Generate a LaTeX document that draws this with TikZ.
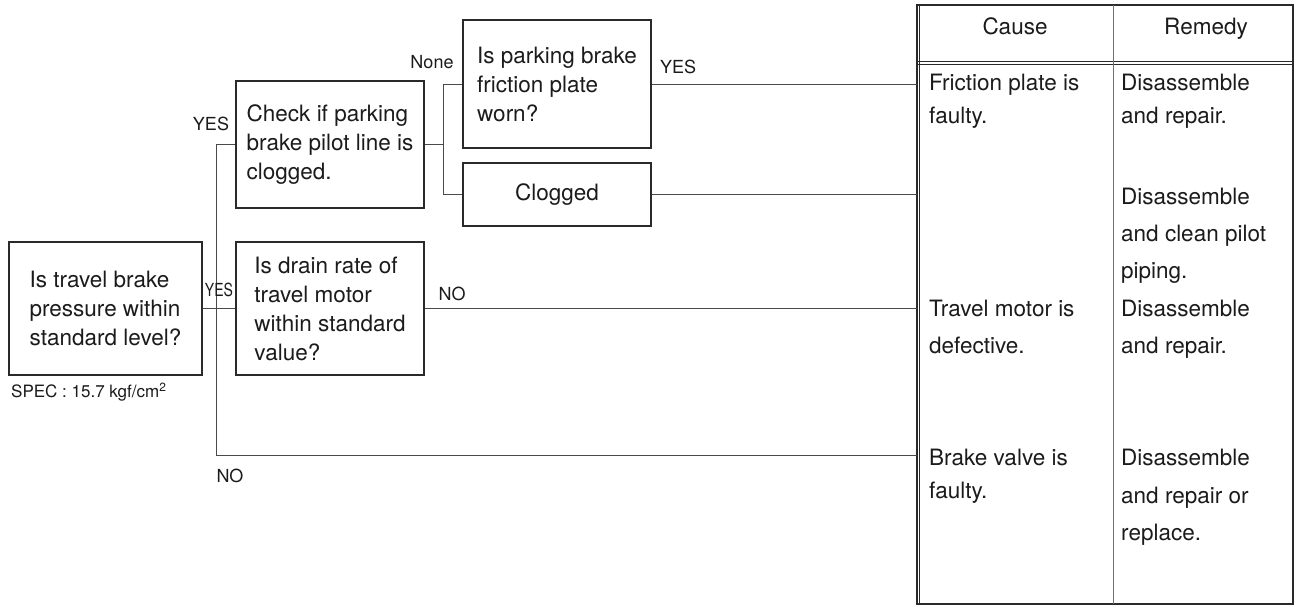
\documentclass[tikz,border=0pt]{standalone}
\usepackage{fontspec}
\setmainfont{TeX Gyre Heros}
\definecolor{ink}{HTML}{1C1A1B}
\definecolor{boxline}{HTML}{2A2A2A}
\definecolor{connline}{HTML}{4A4A4A}
\definecolor{divline}{HTML}{707070}
\begin{document}
\begin{tikzpicture}[x=1pt,y=-1pt,
  qbox/.style={draw=boxline,line width=1.4pt,rectangle,align=left,text=ink,
    font=\fontsize{22.5}{29}\selectfont,inner sep=0pt},
  conn/.style={draw=connline,line width=1pt},
  lbl/.style={text=ink,font=\fontsize{18}{20}\selectfont,inner sep=0pt},
  cell/.style={text=ink,anchor=north west,align=left,inner sep=0pt},
  hdr/.style={text=ink,font=\fontsize{22.5}{24}\selectfont,inner sep=0pt,anchor=base}
]
\useasboundingbox (0,0) rectangle (1300,608);

% decision boxes
\node[qbox,minimum width=193,minimum height=133] (A) at (105.5,308.5)
  {Is travel brake\\pressure within\\standard level?};
\node[qbox,minimum width=188,minimum height=133] (B) at (330,308.5)
  {Is drain rate of\\travel motor\\within standard\\value?};
\node[qbox,minimum width=188,minimum height=127] (C) at (330,144.5)
  {Check if parking\\brake pilot line is\\clogged.};
\node[qbox,minimum width=188,minimum height=128] (D) at (557,84)
  {Is parking brake\\friction plate\\worn?};
\node[qbox,minimum width=188,minimum height=63] (E) at (557,194.5)
  {Clogged};

% spec note
\node[text=ink,anchor=west,inner sep=0pt,font=\fontsize{17}{19}\selectfont] (spec) at (11,392)
  {SPEC : 15.7 kgf/cm\textsuperscript{2}};

% table
\node[draw=boxline,line width=1.2pt,rectangle,minimum width=376,minimum height=599,inner sep=0pt] (tbl) at (1105,304.5) {};
\draw[boxline,line width=0.8pt] (919.5,5) -- (919.5,604);
\draw[boxline,line width=0.8pt] (917,61) -- (1293,61);
\draw[boxline,line width=0.8pt] (917,64.5) -- (1293,64.5);
\draw[divline,line width=1pt] (1113,5) -- (1113,604);
\node[hdr] (hcause) at (1015,34) {Cause};
\node[hdr] (hremedy) at (1206,34) {Remedy};

\node[cell,font=\fontsize{22.5}{33}\selectfont] (c1) at (929,74) {Friction plate is\\faulty.};
\node[cell,font=\fontsize{22.5}{37}\selectfont] (c2) at (929,300) {Travel motor is\\defective.};
\node[cell,font=\fontsize{22.5}{33}\selectfont] (c3) at (929,449) {Brake valve is\\faulty.};
\node[cell,font=\fontsize{22.5}{33}\selectfont] (r1) at (1121,74) {Disassemble\\and repair.};
\node[cell,font=\fontsize{22.5}{37}\selectfont] (r2) at (1121,188) {Disassemble\\and clean pilot\\piping.};
\node[cell,font=\fontsize{22.5}{37}\selectfont] (r3) at (1121,300) {Disassemble\\and repair.};
\node[cell,font=\fontsize{22.5}{37.5}\selectfont] (r4) at (1121,449) {Disassemble\\and repair or\\replace.};

% table entry points
\coordinate (T1) at (917,84);
\coordinate (T2) at (917,194.5);
\coordinate (T3) at (917,308.5);
\coordinate (T4) at (917,455);

% connectors
\draw[conn] (A.east) -- (B.west);
\draw[conn] (C.west) -- ++(-19,0) coordinate (j1) -- (j1 |- T4) -- (T4);
\draw[conn] (B.east) -- (T3);
\draw[conn] (C.east) -- ++(19,0) coordinate (j2);
\draw[conn] (D.west) -| (j2) |- (E.west);
\draw[conn] (D.east) -- (T1);
\draw[conn] (E.east) -- (T2);

% labels
\node[lbl] (yes1) at (211,124) {YES};
\node[lbl] (yes2) at (219,290) {\scalebox{0.78}[1]{YES}};
\node[lbl] (none) at (432,62) {None};
\node[lbl] (yes3) at (678,67) {YES};
\node[lbl] (no1) at (452,294) {NO};
\node[lbl] (no2) at (230,476) {NO};
\end{tikzpicture}
\end{document}
